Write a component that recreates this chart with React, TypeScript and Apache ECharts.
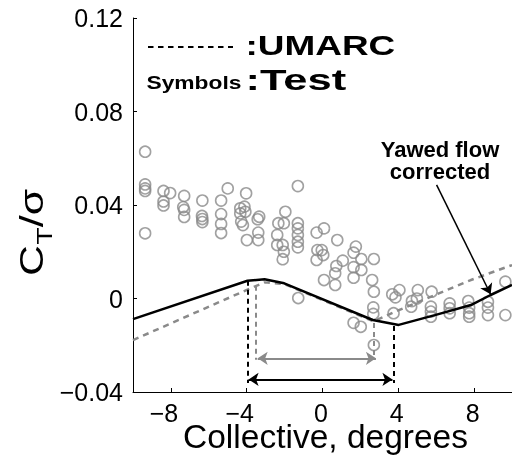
import React, { useEffect, useRef } from "react";
import * as echarts from "echarts";

// ---- data ----
const xTicks = [-8, -4, 0, 4, 8];
const yTicks = [-0.04, 0, 0.04, 0.08, 0.12];

// UMARC, yawed flow corrected (solid black)
const umarcCorrected: [number, number][] = [
  [-10, -0.0088], [-3.96, 0.0076], [-3.06, 0.0082], [-2.02, 0.0065],
  [2.65, -0.0092], [4.02, -0.0113], [5.93, -0.0071], [7.83, -0.0028],
  [8.87, 0.0015], [10, 0.0058],
];

// UMARC (dashed grey)
const umarcBaseline: [number, number][] = [
  [-10, -0.0178], [-3.93, 0.0039], [-3.06, 0.0069], [-2.02, 0.0062],
  [2.7, -0.0098], [3.85, -0.0056], [5.93, 0.0015], [7.83, 0.0079],
  [10, 0.0143],
];

// Test (open circles)
const testData: [number, number][] = [
  [-9.36, 0.0628], [-9.36, 0.0488], [-9.36, 0.0471], [-9.36, 0.046], [-9.36, 0.0279],
  [-8.39, 0.046], [-8.04, 0.0451], [-8.39, 0.0415], [-8.39, 0.0398],
  [-7.3, 0.0439], [-7.35, 0.0391], [-7.3, 0.0379], [-7.3, 0.0349],
  [-6.34, 0.0419], [-6.36, 0.0353], [-6.34, 0.034], [-6.34, 0.0327],
  [-5.35, 0.0419], [-5.35, 0.0361], [-5.35, 0.0319], [-5.35, 0.028], [-5.0, 0.0471],
  [-4.03, 0.045], [-4.34, 0.0386], [-4.12, 0.0393], [-4.34, 0.0364], [-4.07, 0.0371],
  [-4.29, 0.0329], [-4.2, 0.0314],
  [-3.34, 0.035], [-3.42, 0.0339], [-3.39, 0.0282], [-3.39, 0.025], [-3.99, 0.025],
  [-1.3, 0.0481], [-1.96, 0.0371], [-2.33, 0.0322], [-2.04, 0.0322], [-2.39, 0.0272],
  [-2.39, 0.0229], [-2.1, 0.0229], [-2.04, 0.02], [-2.1, 0.0168],
  [-1.3, 0.0322], [-1.3, 0.03], [-1.3, 0.0272], [-1.3, 0.0243], [-1.3, 0.0219], [-1.28, 0.0002],
  [-0.31, 0.0282], [0.08, 0.03], [-0.27, 0.0207], [-0.04, 0.0207], [0.04, 0.0186], [-0.31, 0.0165],
  [0.78, 0.025], [1.76, 0.0222], [1.64, 0.0196], [2.05, 0.0169], [2.71, 0.0169], [1.07, 0.0162],
  [0.73, 0.0139], [1.64, 0.0134], [2.05, 0.0122], [0.67, 0.0108], [1.64, 0.0089], [0.08, 0.0079],
  [0.67, 0.0058], [2.62, 0.0079], [2.71, 0.0029], [2.68, -0.0038], [2.68, -0.0066],
  [1.64, -0.0104], [2.02, -0.0121], [2.71, -0.0199],
  [3.75, -0.0063], [3.68, 0.0018], [4.06, 0.0036], [3.85, 0.0005], [5.03, 0.0036],
  [4.72, -0.0011], [4.98, 0.0], [4.68, -0.0035],
  [5.76, 0.0029], [5.72, -0.0035], [5.72, -0.0056], [5.72, -0.0078],
  [6.71, -0.0021], [6.71, -0.0042], [6.71, -0.0063],
  [7.69, -0.0011], [7.74, -0.0039], [7.74, -0.0063], [7.74, -0.0078],
  [8.73, -0.0014], [8.73, -0.0039], [8.73, -0.0071],
  [9.65, 0.0072], [9.65, -0.0071],
];

// annotation geometry (data coordinates)
const blackSpan = { left: -3.96, right: 3.75, top: [0.0076, -0.0118], arrowY: -0.0346, bottom: -0.0362 };
const graySpan = { left: -3.5, right: 2.73, top: [0.0055, -0.0105], arrowY: -0.0256, bottom: -0.0262 };
const yawedArrow = { from: [6.02, 0.0486], to: [8.87, 0.0018] };

const FONT = '"Liberation Sans", Arial, Helvetica, sans-serif';
const GREY = "#8a8a8a";

export default function App() {
  const ref = useRef<HTMLDivElement>(null);
  useEffect(() => {
    if (!ref.current) return;
    const chart = echarts.init(ref.current, null, { renderer: "svg" });
    const fmt = (v: number) => {
      if (Math.abs(v) < 1e-9) return "0";
      return (v < 0 ? "\u2212" : "") + Math.abs(v).toFixed(2);
    };
    const dashBlack = { color: "#000", width: 2, type: [5, 4] as any };
    const dashGrey = { color: GREY, width: 2, type: [5, 4] as any };
    const labelText = { fontSize: 25, fontFamily: FONT, color: "#000" };
    const xLabelText = { ...labelText, lineHeight: 19 };
    const option: any = {
      animation: false,
      grid: { left: 133, right: -6.5, top: 18, bottom: 67 },
      xAxis: {
        type: "value",
        min: -10,
        max: 10,
        axisLine: { show: true, onZero: false, lineStyle: { color: "#000", width: 1 } },
        axisTick: { show: true, inside: true, length: 4, customValues: xTicks, lineStyle: { color: "#000" } },
        axisLabel: {
          customValues: xTicks,
          formatter: (v: number) => (v < 0 ? "{neg|\u2212" + -v + "}" : "{pos|" + v + "}"),
          ...xLabelText,
          margin: 11,
          rich: {
            neg: { ...xLabelText, padding: [0, 14, 0, 0] },
            pos: { ...xLabelText, padding: [0, 3, 0, 0] },
          },
        },
        splitLine: { show: false },
      },
      yAxis: {
        type: "value",
        min: -0.04,
        max: 0.12,
        interval: 0.04,
        axisLine: { show: true, onZero: false, lineStyle: { color: "#000", width: 1 } },
        axisTick: { show: true, inside: true, length: 4, customValues: yTicks, lineStyle: { color: "#000" } },
        axisLabel: {
          customValues: yTicks,
          formatter: fmt,
          ...labelText,
          margin: 10,
        },
        splitLine: { show: false },
      },
      series: [
        {
          type: "scatter",
          data: testData,
          symbol: "circle",
          symbolSize: 11,
          itemStyle: { color: "rgba(0,0,0,0)", borderColor: GREY, borderWidth: 1.6 },
          z: 2,
          silent: true,
        },
        {
          type: "line",
          data: umarcBaseline,
          showSymbol: false,
          lineStyle: { color: GREY, width: 2.5, type: [6, 5] },
          z: 3,
          silent: true,
        },
        {
          type: "line",
          data: umarcCorrected,
          showSymbol: false,
          lineStyle: { color: "#000", width: 2.5 },
          z: 4,
          silent: true,
          markLine: {
            silent: true,
            animation: false,
            symbol: ["none", "none"],
            symbolSize: 10,
            label: { show: false },
            emphasis: { disabled: true },
            data: [
              [
                { coord: [blackSpan.left, blackSpan.top[0]], lineStyle: dashBlack },
                { coord: [blackSpan.left, blackSpan.bottom] },
              ],
              [
                { coord: [blackSpan.right, blackSpan.top[1]], lineStyle: dashBlack },
                { coord: [blackSpan.right, blackSpan.bottom] },
              ],
              [
                { coord: [blackSpan.left + 0.06, blackSpan.arrowY], symbol: "arrow", lineStyle: { color: "#000", width: 2, type: "solid" } },
                { coord: [blackSpan.right - 0.06, blackSpan.arrowY], symbol: "arrow" },
              ],
              [
                { coord: [graySpan.left, graySpan.top[0]], lineStyle: dashGrey },
                { coord: [graySpan.left, graySpan.bottom] },
              ],
              [
                { coord: [graySpan.right, graySpan.top[1]], lineStyle: dashGrey },
                { coord: [graySpan.right, graySpan.bottom] },
              ],
              [
                { coord: [graySpan.left + 0.08, graySpan.arrowY], symbol: "arrow", lineStyle: { color: GREY, width: 2, type: "solid" } },
                { coord: [graySpan.right + 0.09, graySpan.arrowY], symbol: "arrow" },
              ],
              [
                { coord: yawedArrow.from, symbol: "none", lineStyle: { color: "#000", width: 1.5, type: "solid" } },
                { coord: yawedArrow.to, symbol: "arrow" },
              ],
            ],
          },
        },
      ],
      graphic: [
        {
          type: "line",
          silent: true,
          shape: { x1: 148, y1: 47, x2: 233, y2: 47 },
          style: { stroke: "#000", lineWidth: 2, lineDash: [5.5, 4.5] },
        },
        {
          type: "text",
          x: 245.5,
          y: 45,
          scaleX: 1.32,
          style: { text: ":UMARC", font: `bold 28px ${FONT}`, fill: "#000", textAlign: "left", textVerticalAlign: "middle" },
        },
        {
          type: "text",
          x: 146.5,
          y: 82,
          scaleX: 1.2,
          style: { text: "Symbols", font: `bold 19px ${FONT}`, fill: "#000", textAlign: "left", textVerticalAlign: "middle" },
        },
        {
          type: "text",
          x: 245.5,
          y: 79.5,
          scaleX: 1.45,
          style: { text: ":Test", font: `bold 30px ${FONT}`, fill: "#000", textAlign: "left", textVerticalAlign: "middle" },
        },
        {
          type: "text",
          x: 440,
          y: 149,
          style: { text: "Yawed flow", font: `bold 22px ${FONT}`, fill: "#000", textAlign: "center", textVerticalAlign: "middle" },
        },
        {
          type: "text",
          x: 440,
          y: 171,
          style: { text: "corrected", font: `bold 22px ${FONT}`, fill: "#000", textAlign: "center", textVerticalAlign: "middle" },
        },
        {
          type: "text",
          x: 325.5,
          y: 436,
          style: { text: "Collective, degrees", font: `33.5px ${FONT}`, lineHeight: 26, fill: "#000", textAlign: "center", textVerticalAlign: "middle" },
        },
        {
          type: "group",
          x: 31,
          y: 276,
          rotation: Math.PI / 2,
          scaleX: 1.3,
          children: [
            { type: "text", x: 0, y: 0, style: { text: "C", font: `33px ${FONT}`, fill: "#000", textAlign: "left", textVerticalAlign: "middle" } },
            { type: "text", x: 24, y: 13, style: { text: "T", font: `22px ${FONT}`, fill: "#000", textAlign: "left", textVerticalAlign: "middle" } },
            { type: "text", x: 37.5, y: 0, style: { text: "/\u03c3", font: `33px ${FONT}`, fill: "#000", textAlign: "left", textVerticalAlign: "middle" } },
          ],
        },
      ],
    };
    chart.setOption(option);
    return () => chart.dispose();
  }, []);
  return <div ref={ref} style={{ position: "fixed", left: 0, top: 0, width: 512, height: 459 }} />;
}
